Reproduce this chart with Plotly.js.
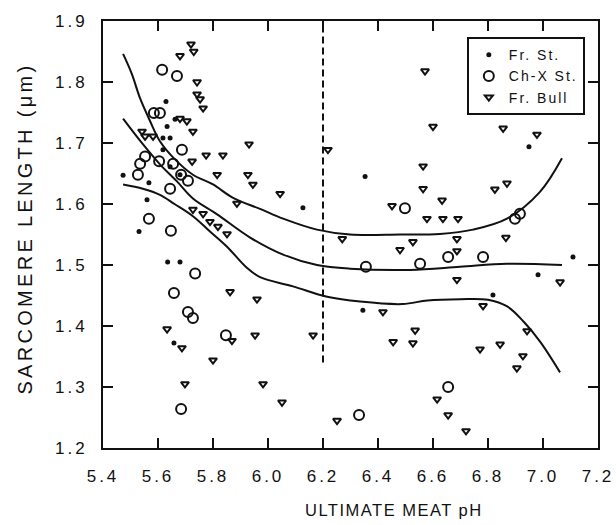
<!DOCTYPE html>
<html>
<head>
<meta charset="utf-8">
<script src="https://cdn.plot.ly/plotly-3.0.1.min.js"></script>
<style>
  html, body { margin: 0; padding: 0; background: #fff; }
  .xtick text, .ytick text { letter-spacing: 3px; }
  .legendtext { letter-spacing: 2px; }
  g.annotation[data-index="0"] text { letter-spacing: 1.5px; }
  g.annotation[data-index="1"] text { letter-spacing: 3.3px; }
</style>
</head>
<body>
<div id="chart" style="width:616px;height:525px;"></div>
<script>
// ---- data ----
const frStX = [5.629, 5.662, 5.633, 5.618, 5.644, 5.618, 5.644, 5.68, 5.473, 5.567, 5.56, 5.531, 5.635, 5.68, 5.658, 6.127, 6.353, 6.345, 6.949, 7.109, 6.982, 6.818];
const frStY = [1.768, 1.739, 1.727, 1.708, 1.708, 1.689, 1.661, 1.648, 1.647, 1.635, 1.607, 1.555, 1.505, 1.505, 1.372, 1.594, 1.645, 1.426, 1.694, 1.513, 1.484, 1.451];

const chxX = [5.615, 5.669, 5.585, 5.607, 5.687, 5.553, 5.535, 5.604, 5.655, 5.527, 5.684, 5.709, 5.644, 5.567, 5.647, 5.735, 5.658, 5.709, 5.727, 5.847, 5.684, 6.498, 6.655, 6.553, 6.356, 6.782, 6.898, 6.916, 6.655, 6.331];
const chxY = [1.82, 1.81, 1.749, 1.749, 1.689, 1.678, 1.666, 1.67, 1.666, 1.648, 1.648, 1.638, 1.625, 1.576, 1.556, 1.486, 1.454, 1.423, 1.413, 1.385, 1.264, 1.593, 1.513, 1.502, 1.497, 1.513, 1.576, 1.584, 1.30, 1.254];

const bullX = [5.72, 5.73, 5.68, 5.742, 5.742, 5.753, 5.764, 5.68, 5.705, 5.727, 5.542, 5.553, 5.582, 5.931, 5.775, 5.836, 5.724, 5.815, 5.927, 5.945, 5.887, 6.044, 6.218, 6.27, 5.727, 5.764, 5.789, 5.818, 5.851, 5.862, 5.633, 5.96, 5.869, 5.953, 5.687, 5.8, 5.698, 6.571, 6.6, 6.564, 6.564, 6.633, 6.451, 6.578, 6.636, 6.691, 6.527, 6.687, 6.48, 6.687, 6.687, 6.418, 6.535, 6.164, 6.455, 6.527, 5.982, 6.051, 6.615, 6.251, 6.655, 6.855, 6.825, 6.869, 6.865, 6.978, 7.062, 6.782, 6.942, 6.771, 6.844, 6.927, 6.905, 6.72];
const bullY = [1.862, 1.85, 1.843, 1.80, 1.78, 1.772, 1.757, 1.74, 1.736, 1.719, 1.719, 1.711, 1.711, 1.698, 1.68, 1.68, 1.67, 1.648, 1.648, 1.632, 1.601, 1.617, 1.689, 1.543, 1.591, 1.584, 1.571, 1.563, 1.551, 1.456, 1.395, 1.444, 1.376, 1.385, 1.364, 1.344, 1.305, 1.818, 1.727, 1.662, 1.625, 1.606, 1.597, 1.576, 1.576, 1.576, 1.538, 1.543, 1.525, 1.523, 1.476, 1.423, 1.393, 1.385, 1.374, 1.372, 1.305, 1.275, 1.28, 1.245, 1.254, 1.724, 1.624, 1.634, 1.545, 1.714, 1.472, 1.433, 1.392, 1.362, 1.370, 1.351, 1.331, 1.228];

const upperX = [5.473, 5.505, 5.535, 5.571, 5.607, 5.66, 5.727, 5.80, 5.873, 5.971, 6.055, 6.178, 6.298, 6.48, 6.625, 6.745, 6.869, 6.989, 7.069];
const upperY = [1.846, 1.813, 1.773, 1.736, 1.703, 1.674, 1.648, 1.632, 1.610, 1.592, 1.576, 1.558, 1.550, 1.550, 1.551, 1.558, 1.576, 1.620, 1.675];

const middleX = [5.473, 5.545, 5.607, 5.669, 5.727, 5.815, 5.935, 6.055, 6.178, 6.298, 6.516, 6.698, 6.869, 7.069];
const middleY = [1.740, 1.698, 1.665, 1.637, 1.609, 1.583, 1.545, 1.517, 1.500, 1.494, 1.492, 1.497, 1.502, 1.500];

const lowerX = [5.473, 5.545, 5.607, 5.66, 5.727, 5.789, 5.851, 5.924, 5.971, 6.091, 6.215, 6.335, 6.49, 6.58, 6.70, 6.80, 6.87, 6.93, 6.99, 7.062];
const lowerY = [1.632, 1.625, 1.615, 1.600, 1.580, 1.555, 1.530, 1.495, 1.480, 1.465, 1.448, 1.440, 1.436, 1.442, 1.444, 1.443, 1.432, 1.407, 1.374, 1.324];

const phThreshold = 6.2;
const thresholdBottom = 1.34;

const xTickVals = [5.4, 5.6, 5.8, 6.0, 6.2, 6.4, 6.6, 6.8, 7.0, 7.2];
const xTickText = ['5.4', '5.6', '5.8', '6.0', '6.2', '6.4', '6.6', '6.8', '7.0', '7.2'];
const yTickVals = [1.2, 1.3, 1.4, 1.5, 1.6, 1.7, 1.8, 1.9];
const yTickText = ['1.2', '1.3', '1.4', '1.5', '1.6', '1.7', '1.8', '1.9'];

const seriesNames = ['Fr. St.', 'Ch-X St.', 'Fr. Bull'];
const xTitle = 'ULTIMATE MEAT pH';
const yTitle = 'SARCOMERE LENGTH (μm)';

// ---- chart ----
const ink = '#111';
const font = 'Liberation Sans, Arial, sans-serif';

const curveStyle = {mode: 'lines', line: {color: ink, width: 2, shape: 'spline', smoothing: 1}, showlegend: false, hoverinfo: 'skip'};

const traces = [
  Object.assign({x: upperX, y: upperY, type: 'scatter'}, curveStyle),
  Object.assign({x: middleX, y: middleY, type: 'scatter'}, curveStyle),
  Object.assign({x: lowerX, y: lowerY, type: 'scatter'}, curveStyle),
  {x: frStX, y: frStY, type: 'scatter', mode: 'markers', name: seriesNames[0],
   marker: {symbol: 'circle', size: 5, color: ink}},
  {x: chxX, y: chxY, type: 'scatter', mode: 'markers', name: seriesNames[1],
   marker: {symbol: 'circle-open', size: 10, color: ink, line: {width: 2, color: ink}}},
  {x: bullX, y: bullY, type: 'scatter', mode: 'markers', name: seriesNames[2],
   marker: {symbol: 'triangle-down-open', size: 7, color: ink, line: {width: 2, color: ink}}}
];

const axisCommon = {
  showgrid: false, zeroline: false, showline: true, linecolor: ink, linewidth: 2,
  mirror: 'ticks', ticks: 'inside', ticklen: 10, tickwidth: 2, tickcolor: ink,
  tickfont: {family: font, size: 17, color: ink}
};

const layout = {
  width: 616, height: 525,
  margin: {l: 103, r: 18, t: 21, b: 77},
  paper_bgcolor: '#fff', plot_bgcolor: '#fff',
  xaxis: Object.assign({}, axisCommon, {
    range: [5.4, 7.2], tickmode: 'array', tickvals: xTickVals, ticktext: xTickText,
    ticklabelstandoff: 12
  }),
  yaxis: Object.assign({}, axisCommon, {
    range: [1.2, 1.9], tickmode: 'array', tickvals: yTickVals, ticktext: yTickText,
    ticklabelstandoff: 10
  }),
  showlegend: true,
  legend: {
    x: 0.735, y: 0.962, xanchor: 'left', yanchor: 'top',
    bgcolor: '#fff', bordercolor: ink, borderwidth: 2,
    font: {family: font, size: 14, color: ink},
    itemsizing: 'trace', tracegroupgap: 0
  },
  shapes: [{
    type: 'line', xref: 'x', yref: 'y', x0: phThreshold, x1: phThreshold, y0: thresholdBottom, y1: 1.9,
    line: {color: ink, width: 2, dash: '7px,4px'}
  }],
  annotations: [
    {text: xTitle, xref: 'paper', yref: 'paper', x: 0.588, y: -0.145, xanchor: 'center', yanchor: 'middle',
     showarrow: false, font: {family: font, size: 16.5, color: ink}},
    {text: yTitle, xref: 'paper', yref: 'paper', x: -0.158, y: 0.515, xanchor: 'center', yanchor: 'middle',
     textangle: -90, showarrow: false, font: {family: font, size: 20, color: ink}}
  ]
};

Plotly.newPlot('chart', traces, layout, {displayModeBar: false, staticPlot: true});
</script>
</body>
</html>
